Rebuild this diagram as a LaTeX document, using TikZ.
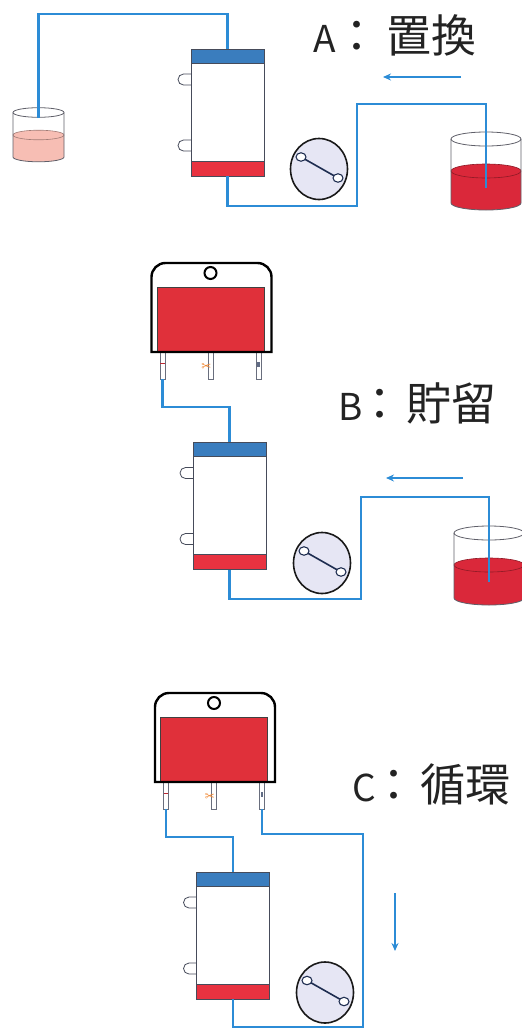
\documentclass[tikz,border=0pt]{standalone}
\usepackage{fontspec}
\newfontfamily\jpfont{Noto Sans CJK JP}
\newfontfamily\symfont{DejaVu Sans}
\usetikzlibrary{arrows.meta,shapes.geometric}

\definecolor{tubeblue}{RGB}{44,140,214}
\definecolor{capblue}{RGB}{58,125,190}
\definecolor{capred}{RGB}{232,50,64}
\definecolor{bagred}{RGB}{224,48,58}
\definecolor{bloodred}{RGB}{218,40,58}
\definecolor{plasma}{RGB}{247,190,180}
\definecolor{pumpfill}{RGB}{230,230,244}
\definecolor{edgegray}{RGB}{70,75,90}
\definecolor{glassgray}{RGB}{95,95,105}
\definecolor{tubegray}{RGB}{105,110,125}
\definecolor{cutorange}{RGB}{240,135,50}
\definecolor{navy}{RGB}{30,45,80}
\definecolor{textgray}{RGB}{35,35,35}

\tikzset{
  tube/.style={draw=tubeblue, line width=2.4pt},
  flow/.style={draw=tubeblue, line width=2pt, -{Stealth[length=8pt,width=7pt]}},
  filterbody/.style={rectangle, draw=edgegray, line width=0.6pt, fill=white,
    minimum width=73pt, minimum height=127pt, inner sep=0pt},
  pumpbody/.style={ellipse, draw=black!90, line width=1.6pt, fill=pumpfill,
    minimum width=57pt, minimum height=61pt, inner sep=0pt},
  bagbody/.style={rectangle, minimum width=120pt, minimum height=89pt, inner sep=0pt},
  stepletter/.style={font=\jpfont\fontsize{37}{40}\selectfont, text=textgray, anchor=base west, inner sep=0pt},
  stepcolon/.style={font=\jpfont\fontsize{45}{48}\selectfont, text=textgray, anchor=base, inner sep=0pt},
  stepword/.style={font=\jpfont\fontsize{45}{48}\selectfont, text=textgray, anchor=base west, inner sep=0pt},
  glass/.style={draw=glassgray, line width=0.8pt},
}

% step caption: name, letter x, colon x, word x, baseline y, letter, word
\newcommand\stepcaption[7]{%
  \node[stepletter] (#1) at (#2,#5) {#6};
  \node[stepcolon] (#1-colon) at (#3,#5) {\makebox[8pt][c]{：}};
  \node[stepword] (#1-word) at (#4,#5) {#7};}

% filter column: name, centre
\newcommand\filterunit[2]{%
  \node[filterbody] (#1) at #2 {};
  \begin{scope}[shift={#2}]
    \fill[capblue] (-36.5,-63.5) rectangle (36.5,-49.5);
    \fill[capred] (-36.5,48.5) rectangle (36.5,63.5);
    \draw[edgegray, line width=0.5pt] (-36.5,-49.5) -- (36.5,-49.5) (-36.5,48.5) -- (36.5,48.5);
    \draw[edgegray, line width=0.6pt] (-36.5,-63.5) rectangle (36.5,63.5);
    \foreach \yy in {-33,33}
      \draw[edgegray, line width=0.8pt] (-36.5,\yy-5.5) -- (-44,\yy-5.5)
        arc[start angle=90, end angle=270, radius=5.5pt] -- (-36.5,\yy+5.5);
  \end{scope}}

% roller pump: name, centre
\newcommand\pumpunit[2]{%
  \node[pumpbody] (#1) at #2 {};
  \begin{scope}[shift={#2}]
    \draw[draw=navy, line width=1.6pt] (-18,-12) -- (19,9);
    \filldraw[fill=white, draw=navy, line width=1.1pt]
      (-18,-12) ellipse [x radius=5pt, y radius=4.2pt]
      (19,9) ellipse [x radius=5pt, y radius=4.2pt];
  \end{scope}}

% beaker: name, cx, rx, rim y, surface y, bottom y, ry, liquid, tube end y
\newcommand\beakerunit[9]{%
  \fill[#8] (#2-#3,#5) -- (#2-#3,#6)
    arc[start angle=180, end angle=360, x radius=#3pt, y radius=#7pt]
    -- (#2+#3,#5)
    arc[start angle=0, end angle=180, x radius=#3pt, y radius=#7pt] -- cycle;
  \draw[#8!65!black, line width=0.6pt] (#2,#5) ellipse [x radius=#3pt, y radius=#7pt];
  \draw[glass] (#2,#4) ellipse [x radius=#3pt, y radius=#7pt];
  \draw[glass] (#2-#3,#4) -- (#2-#3,#6)
    arc[start angle=180, end angle=360, x radius=#3pt, y radius=#7pt] -- (#2+#3,#4);
  \coordinate (#1) at (#2,#9);}

% blood bag with three outlet tubes: name, (cx, top)
\newcommand\bagunit[2]{%
  \begin{scope}[shift={#2}]
    \foreach \tx in {-49,-1,47}
      \filldraw[fill=white, draw=tubegray, line width=0.6pt] (\tx-2.3,86) rectangle (\tx+2.3,116);
    \coordinate (#1-l) at (-49,116);
    \coordinate (#1-m) at (-1,116);
    \coordinate (#1-r) at (47,116);
    \node[bagbody] (#1) at (0,44.5) {};
    \fill[white] (-60,89) -- (-60,14) arc[start angle=180, end angle=90, radius=14pt]
      -- (46,0) arc[start angle=90, end angle=0, radius=14pt] -- (60,89) -- cycle;
    \filldraw[fill=bagred, draw=black!75, line width=0.6pt] (-54.5,24) rectangle (52.5,88.5);
    \draw[black, line width=2.4pt] (-60,89) -- (-60,14) arc[start angle=180, end angle=90, radius=14pt]
      -- (46,0) arc[start angle=90, end angle=0, radius=14pt] -- (60,89) -- cycle;
    \filldraw[fill=white, draw=black, line width=2pt] (-1,10) circle[radius=6pt];
    \draw[capred!80!black, line width=1pt] (-51.3,100) -- (-46.7,100);
    \fill[navy!70] (45.7,99) rectangle (48.3,104);
    \node[text=cutorange, font=\symfont\fontsize{12}{12}\selectfont, inner sep=0pt] (#1-cut) at (-5,104) {✂};
  \end{scope}}

\begin{document}
\begin{tikzpicture}[x=1pt, y=-1pt]
\useasboundingbox (0,0) rectangle (522,1028);
\clip (0,0) rectangle (522,1028);

% ---------- A: priming ----------
\beakerunit{bkL}{38.5}{25.5}{112.5}{135}{157}{4.8}{plasma}{118}
\beakerunit{bkRA}{486}{35}{139}{171}{203}{7}{bloodred}{188}
\filterunit{fA}{(227.5,112.5)}
\pumpunit{pA}{(319,169)}
\draw[tube] (bkL) -- ++(0,-104) -| (fA.north);
\draw[tube] (fA.south) |- (357,206) |- (bkRA |- 0,104) -- (bkRA);
\coordinate (arrA-s) at (461,77);
\coordinate (arrA-e) at (383,77);
\draw[flow] (arrA-s) -- (arrA-e);
\stepcaption{labA}{313}{357}{386}{52}{A}{置換}

% ---------- B: collection ----------
\bagunit{bagB}{(211.5,263)}
\beakerunit{bkB}{489}{35}{533}{565}{598}{7}{bloodred}{582}
\filterunit{fB}{(229.5,506)}
\pumpunit{pB}{(322,563)}
\draw[tube] (bagB-l) -- ++(0,28) -| (fB.north);
\draw[tube] (fB.south) |- (361,599) |- (bkB |- 0,497) -- (bkB);
\coordinate (arrB-s) at (463,478);
\coordinate (arrB-e) at (386,478);
\draw[flow] (arrB-s) -- (arrB-e);
\stepcaption{labB}{338}{380}{406}{420}{B}{貯留}

% ---------- C: circulation ----------
\bagunit{bagC}{(215,693)}
\filterunit{fC}{(233,935.5)}
\pumpunit{pC}{(325,992.5)}
\draw[tube] (bagC-l) -- ++(0,28) -| (fC.north);
\draw[tube] (bagC-r) -- ++(0,25) -| (363,1027) -| (fC.south);
\coordinate (arrC-s) at (395,893);
\coordinate (arrC-e) at (395,951);
\draw[flow] (arrC-s) -- (arrC-e);
\stepcaption{labC}{352}{394}{420}{801}{C}{循環}
\end{tikzpicture}
\end{document}
